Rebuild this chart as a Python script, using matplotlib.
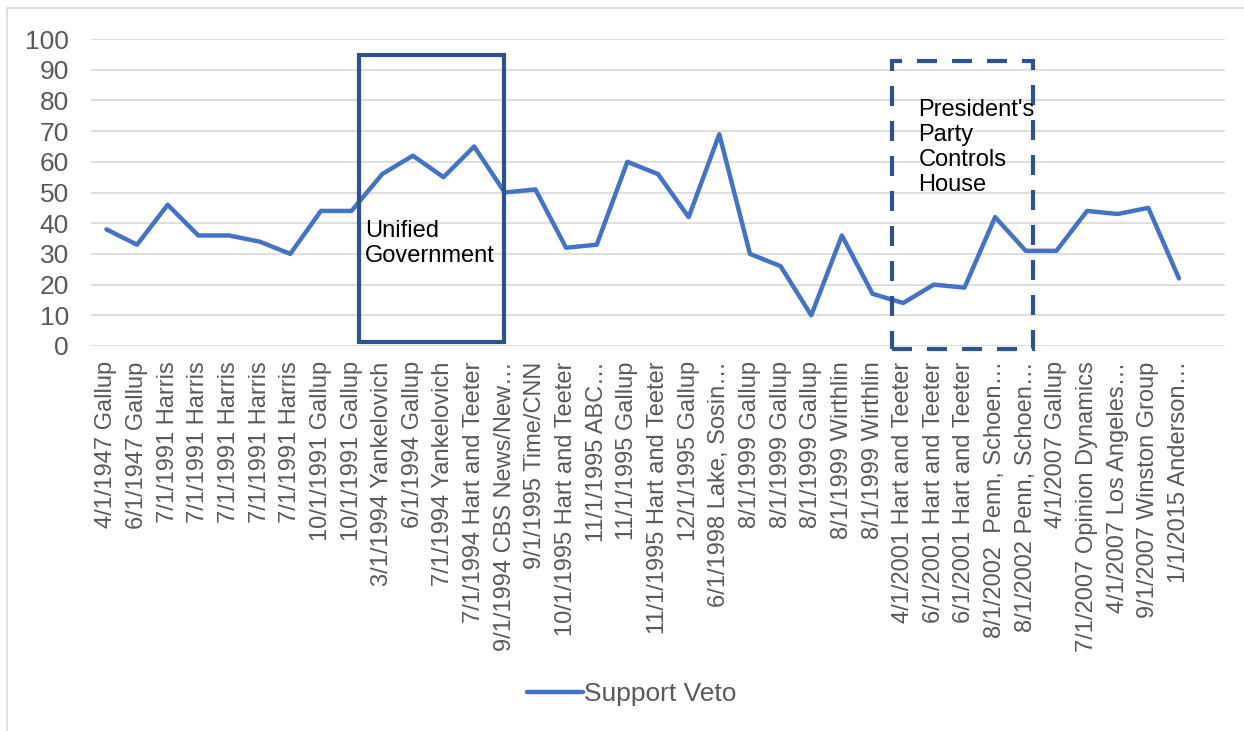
import matplotlib.pyplot as plt
from matplotlib.patches import Rectangle

LABELS = [
    "4/1/1947 Gallup", "6/1/1947 Gallup", "7/1/1991 Harris", "7/1/1991 Harris",
    "7/1/1991 Harris", "7/1/1991 Harris", "7/1/1991 Harris", "10/1/1991 Gallup",
    "10/1/1991 Gallup", "3/1/1994 Yankelovich", "6/1/1994 Gallup",
    "7/1/1994 Yankelovich", "7/1/1994 Hart and Teeter", "9/1/1994 CBS News/New…",
    "9/1/1995 Time/CNN", "10/1/1995 Hart and Teeter", "11/1/1995 ABC…",
    "11/1/1995 Gallup", "11/1/1995 Hart and Teeter", "12/1/1995 Gallup",
    "6/1/1998 Lake, Sosin…", "8/1/1999 Gallup", "8/1/1999 Gallup",
    "8/1/1999 Gallup", "8/1/1999 Wirthlin", "8/1/1999 Wirthlin",
    "4/1/2001 Hart and Teeter", "6/1/2001 Hart and Teeter",
    "6/1/2001 Hart and Teeter", "8/1/2002  Penn, Schoen…", "8/1/2002 Penn, Schoen…",
    "4/1/2007 Gallup", "7/1/2007 Opinion Dynamics", "4/1/2007 Los Angeles…",
    "9/1/2007 Winston Group", "1/1/2015 Anderson…",
]
SUPPORT_VETO = [38, 33, 46, 36, 36, 34, 30, 44, 44, 56, 62, 55, 65, 50, 51, 32,
                33, 60, 56, 42, 69, 30, 26, 10, 36, 17, 14, 20, 19, 42, 31, 31,
                44, 43, 45, 22]

LINE_COLOR = "#4472C4"
BOX_COLOR = "#2F528F"
TEXT_GREY = "#595959"

plt.rcParams["font.family"] = ["Liberation Sans", "DejaVu Sans"]

fig = plt.figure(figsize=(12.44, 7.31), dpi=100)
ax = fig.add_axes([0.0732, 0.5267, 0.9115, 0.4199])

x = list(range(len(LABELS)))
ax.plot(x, SUPPORT_VETO, color=LINE_COLOR, lw=3.2, label="Support Veto",
        solid_joinstyle="round", solid_capstyle="round", zorder=3)

ax.set_xlim(-0.5, len(LABELS) + 0.5)
ax.set_ylim(0, 100)
ax.set_yticks(range(0, 101, 10))
ax.set_xticks(x)
ax.set_xticklabels(LABELS, rotation=90, fontsize=17, color=TEXT_GREY)
ax.tick_params(axis="y", labelsize=19, labelcolor=TEXT_GREY, length=0, pad=16)
ax.tick_params(axis="x", length=0, pad=11)
ax.grid(axis="y", color="#D9D9D9", lw=1.2)
ax.set_axisbelow(True)
for s in ax.spines.values():
    s.set_visible(False)

# annotation boxes
ax.add_patch(Rectangle((8.25, 1.3), 4.73, 93.5, fill=False, ec=BOX_COLOR,
                       lw=3, clip_on=False, zorder=4))
ax.add_patch(Rectangle((25.64, -1.0), 4.59, 93.8, fill=False, ec=BOX_COLOR,
                       lw=3, ls=(0, (4.8, 3.6)), clip_on=False, zorder=4))
ax.text(8.45, 41, "Unified\nGovernment", fontsize=17, color="black",
        va="top", ha="left", linespacing=1.15, zorder=5)
ax.text(26.5, 80.5, "President's\nParty\nControls\nHouse", fontsize=17,
        color="black", va="top", ha="left", linespacing=1.18, zorder=5)

fig.legend(loc="center", bbox_to_anchor=(0.508, 0.05), frameon=False,
           fontsize=19, labelcolor=TEXT_GREY, handlelength=2.1,
           handletextpad=0.05)

# chart border
fig.patches.append(Rectangle((0.0056, -0.01), 1.1, 0.999, transform=fig.transFigure,
                             fill=False, ec="#D9D9D9", lw=1.2))

fig.savefig("out.png", dpi=100)
